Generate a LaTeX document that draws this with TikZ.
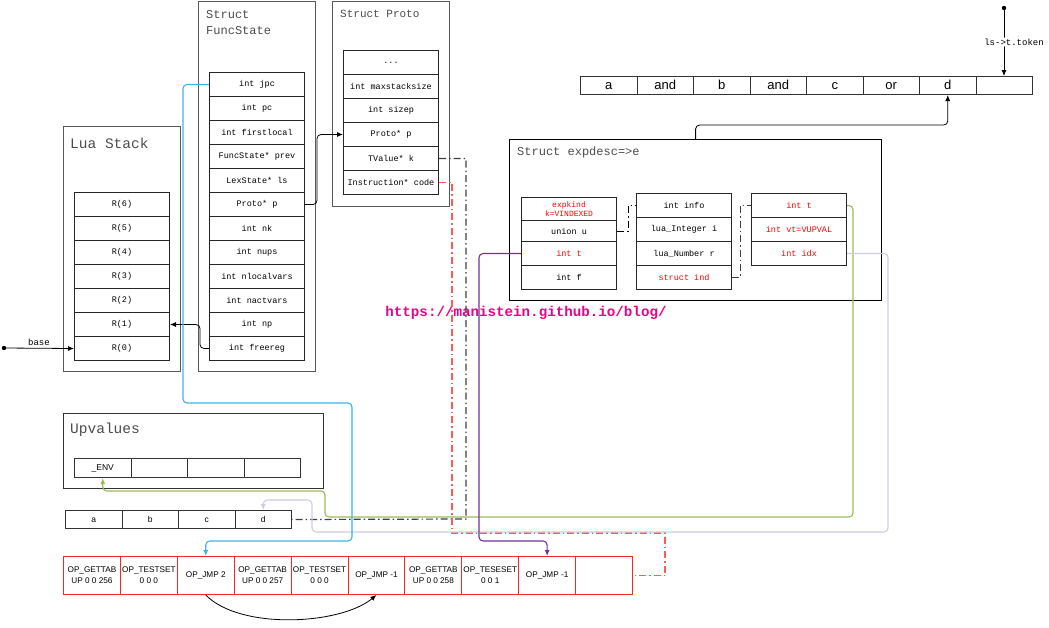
\documentclass[tikz,border=0pt]{standalone}
\usepackage{fontspec}
\setmainfont{Liberation Sans}
\newfontfamily\fieldfamily{Liberation Mono}
\usetikzlibrary{arrows.meta}
\definecolor{jpcblue}{RGB}{60,180,235}
\definecolor{envgreen}{RGB}{155,187,89}
\definecolor{idxgray}{RGB}{208,204,226}
\definecolor{tpurple}{RGB}{112,48,160}
\definecolor{codered}{RGB}{255,90,90}
\definecolor{instrred}{RGB}{245,40,40}
\begin{document}
\begin{tikzpicture}[x=1pt,y=-1pt,
  structbox/.style={draw=black!65,line width=1.2pt,inner sep=0,anchor=north west},
  boxtitle/.style={anchor=west,inner sep=0,text=black!70,font=\fieldfamily\fontsize{12}{16}\selectfont},
  field/.style={draw=black!85,line width=1pt,inner sep=0,anchor=north west,minimum width=95,minimum height=24,font=\fieldfamily\fontsize{8.5}{10}\selectfont},
  redfield/.style={field,text=red},
  token/.style={draw=black!80,line width=1pt,inner sep=0,anchor=north west,minimum width=56.5,minimum height=18,text height=9.5,text depth=2.5,font=\fontsize{13}{15}\selectfont},
  slot/.style={token,minimum height=19,text height=6.5,text depth=1.5,font=\fontsize{8.5}{10}\selectfont},
  instr/.style={draw=instrred,line width=1pt,inner sep=0,anchor=north west,minimum width=56.9,minimum height=38,align=center,font=\fontsize{8.2}{11}\selectfont},
  arr/.style={draw=black,line width=0.8pt,rounded corners=4,-{Latex[length=6pt,width=5pt]}},
  link/.style={draw=black!75,line width=1.2pt,dash pattern=on 7pt off 3pt on 1.5pt off 3pt},
  >={Latex[length=6pt,width=5pt]}
  ]
  \useasboundingbox (0,0) rectangle (1049,627);
  %
  % Lua stack
  %
  \node(luastack)[structbox,minimum width=117,minimum height=245] at (63,126) {};
  \node(luatitle)[boxtitle,font=\fieldfamily\fontsize{14.5}{16}\selectfont] at (70,143) {Lua Stack};
  \node(r6)[field] at (74,192) {R(6)};
  \node(r5)[field] at (74,216) {R(5)};
  \node(r4)[field] at (74,240) {R(4)};
  \node(r3)[field] at (74,264) {R(3)};
  \node(r2)[field] at (74,288) {R(2)};
  \node(r1)[field] at (74,312) {R(1)};
  \node(r0)[field] at (74,336) {R(0)};
  %
  % FuncState
  %
  \node(fsbox)[structbox,minimum width=117,minimum height=370] at (198,1) {};
  \node(fstitle)[boxtitle,anchor=north west,align=left] at (206,10) {Struct\\FuncState};
  \node(jpc)       [field] at (209,72)  {int jpc};
  \node(pc)        [field] at (209,96)  {int pc};
  \node(firstlocal)[field] at (209,120) {int firstlocal};
  \node(prev)      [field] at (209,144) {FuncState* prev};
  \node(ls)        [field] at (209,168) {LexState* ls};
  \node(fsp)       [field] at (209,192) {Proto* p};
  \node(nk)        [field] at (209,216) {int nk};
  \node(nups)      [field] at (209,240) {int nups};
  \node(nlocalvars)[field] at (209,264) {int nlocalvars};
  \node(nactvars)  [field] at (209,288) {int nactvars};
  \node(np)        [field] at (209,312) {int np};
  \node(freereg)   [field] at (209,336) {int freereg};
  %
  % Proto
  %
  \node(pbox)[structbox,minimum width=117,minimum height=205] at (332,1) {};
  \node(ptitle)[boxtitle,font=\fieldfamily\fontsize{11}{13}\selectfont] at (340,14) {Struct Proto};
  \node(dots)    [field] at (343,50)  {...};
  \node(maxstack)[field] at (343,74)  {int maxstacksize};
  \node(sizep)   [field] at (343,98)  {int sizep};
  \node(protop)  [field] at (343,122) {Proto* p};
  \node(tvk)     [field] at (343,146) {TValue* k};
  \node(code)    [field] at (343,170) {Instruction* code};
  %
  % expdesc
  %
  \node(ebox)[structbox,draw=black,minimum width=372,minimum height=161] at (509,139) {};
  \node(etitle)[boxtitle] at (517,152) {Struct expdesc=>e};
  \node(expkind)[redfield,minimum height=23,align=center,font=\fieldfamily\fontsize{8}{9.5}\selectfont] at (521,197) {expkind\\k=VINDEXED};
  \node(unionu)[field,minimum height=21] at (521,220) {union u};
  \node(et)    [redfield] at (521,241) {int t};
  \node(ef)    [field]    at (521,265) {int f};
  \node(info)  [field]    at (636,193) {int info};
  \node(inti)  [field]    at (636,217) {lua\_Integer i};
  \node(numr)  [field]    at (636,241) {lua\_Number r};
  \node(ind)   [redfield] at (636,265) {struct ind};
  \node(ut)    [redfield] at (751,193) {int t};
  \node(vt)    [redfield] at (751,217) {int vt=VUPVAL};
  \node(idx)   [redfield] at (751,241) {int idx};
  %
  % Tokens
  %
  \node(tk1)[token] at (580,76)   {a};
  \node(tk2)[token] at (636.5,76) {and};
  \node(tk3)[token] at (693,76)   {b};
  \node(tk4)[token] at (749.5,76) {and};
  \node(tk5)[token] at (806,76)   {c};
  \node(tk6)[token] at (862.5,76) {or};
  \node(tk7)[token] at (919,76)   {d};
  \node(tk8)[token] at (975.5,76) {};
  %
  % Upvalues
  %
  \node(ubox)[structbox,draw=black!80,minimum width=260,minimum height=75] at (63,413) {};
  \node(utitle)[boxtitle,font=\fieldfamily\fontsize{14.5}{16}\selectfont] at (70,430) {Upvalues};
  \node(uv1)[slot] at (74,458)    {\_ENV};
  \node(uv2)[slot] at (130.5,458) {};
  \node(uv3)[slot] at (187,458)   {};
  \node(uv4)[slot] at (243.5,458) {};
  %
  % Locals
  %
  \node(v1)[slot,minimum height=18] at (65,510)    {a};
  \node(v2)[slot,minimum height=18] at (121.5,510) {b};
  \node(v3)[slot,minimum height=18] at (178,510)   {c};
  \node(v4)[slot,minimum height=18] at (234.5,510) {d};
  %
  % Instructions
  %
  \node(i1) [instr] at (63,556)    {OP\_GETTAB\\UP 0 0 256};
  \node(i2) [instr] at (119.9,556) {OP\_TESTSET\\0 0 0};
  \node(i3) [instr] at (176.8,556) {OP\_JMP 2};
  \node(i4) [instr] at (233.7,556) {OP\_GETTAB\\UP 0 0 257};
  \node(i5) [instr] at (290.6,556) {OP\_TESTSET\\0 0 0};
  \node(i6) [instr] at (347.5,556) {OP\_JMP -1};
  \node(i7) [instr] at (404.4,556) {OP\_GETTAB\\UP 0 0 258};
  \node(i8) [instr] at (461.3,556) {OP\_TESESET\\0 0 1};
  \node(i9) [instr] at (518.2,556) {OP\_JMP -1};
  \node(i10)[instr] at (575.1,556) {};
  %
  \node(wm)[text=magenta,font=\fieldfamily\bfseries\fontsize{14.2}{16}\selectfont] at (526,313) {https://manistein.github.io/blog/};
  %
  % Turn points
  %
  \coordinate(basept)   at (4,348);
  \coordinate(tokpt)    at (1004,8);
  \coordinate(jpcturn)  at (183,403);
  \coordinate(jmpturn)  at (352,541);
  \coordinate(kturn)    at (466,519);
  \coordinate(codeturn) at (452,533);
  \coordinate(codeend)  at (665,533);
  \coordinate(envturn)  at (853,517);
  \coordinate(envup)    at (325,491);
  \coordinate(idxturn)  at (888,532);
  \coordinate(idxup)    at (312,500);
  \coordinate(tturn)    at (479,541);
  %
  % Arrows
  %
  % base -> R(0)
  \fill (basept) circle (2.2);
  \draw[arr] (basept) -- (r0.west) node[midway,above,font=\fieldfamily\fontsize{9}{10}\selectfont,inner sep=2]{base};
  % ls->t.token
  \fill (tokpt) circle (2.2);
  \draw[arr] (tokpt) -- (tokpt |- tk8.north) node[midway,xshift=10,fill=white,inner sep=1,font=\fieldfamily\fontsize{9}{10}\selectfont]{ls->t.token};
  % freereg -> R(1)
  \draw[arr] (freereg.west) -- ++(-9,0) |- (r1.east);
  % Proto* p -> Proto* p
  \draw[arr] (fsp.east) -- ++(12,0) |- (protop.west);
  % expdesc -> d
  \draw[arr] (ebox.north) -- ++(0,-14) -| (tk7.south);
  % union u - info
  \draw[link,draw=black,line width=0.8pt] (unionu.east) -- ++(11,0) |- (info.west);
  % struct ind - int t
  \draw[link,line width=0.8pt] (ind.east) -- ++(8,0) |- (ut.west);
  % TValue* k -> d
  \draw[link] (tvk.east) -| (kturn) -- (v4.east);
  % code -> instructions
  \draw[link,draw=codered] (code.east) -| (codeturn) -- (codeend) |- (i10.east);
  % int t -> _ENV
  \draw[arr,draw=envgreen,line width=1.1pt] (ut.east) -| (envturn) -| (envup) -| (uv1.south);
  % int idx -> d
  \draw[arr,draw=idxgray,line width=1.1pt] (idx.east) -| (idxturn) -| (idxup) -| (v4.north);
  % int jpc -> OP_JMP 2
  \draw[arr,draw=jpcblue,line width=1.1pt] (jpc.west) -| (jpcturn) -| (jmpturn) -| (i3.north);
  % int t -> OP_JMP -1
  \draw[arr,draw=tpurple,line width=1.1pt] (et.west) -| (tturn) -| (i9.north);
  % OP_JMP 2 -> OP_JMP -1
  \draw[arr] (i3.south) .. controls (240,630) and (340,625) .. (i6.south);
\end{tikzpicture}
\end{document}
